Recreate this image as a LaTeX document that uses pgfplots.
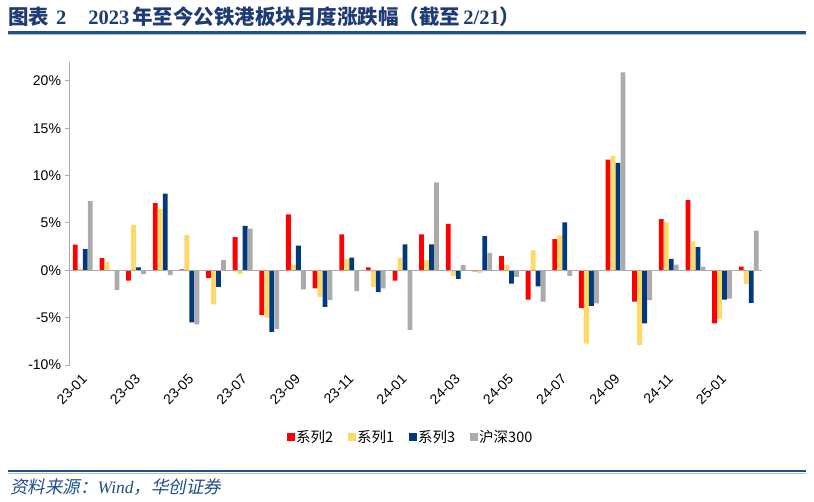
\documentclass[border=0pt]{standalone}
\usepackage{pgfplots}
\usepackage{pgfplotstable}
\pgfplotsset{compat=1.18}
\usepackage{fontspec}
\setmainfont{Liberation Sans}
\newfontfamily\cjk{Noto Sans CJK SC}
\newfontfamily\tnr{Liberation Serif}
\newfontfamily\cjkit{Noto Sans CJK SC}[FakeSlant=0.2]
\definecolor{cred}{HTML}{FF0000}
\definecolor{cyel}{HTML}{FFD966}
\definecolor{cblu}{HTML}{003A7D}
\definecolor{cgry}{HTML}{ABABAB}
\definecolor{navy}{HTML}{1F3B73}
\definecolor{lineblue}{HTML}{1F4E8C}

\pgfplotstableread{
x r y b g
0 2.7 0.2 2.25 7.3
1 1.3 0.9 0.0 -2.1
2 -1.1 4.8 0.3 -0.4
3 7.1 6.5 8.1 -0.5
4 0.1 3.75 -5.5 -5.7
5 -0.8 -3.6 -1.75 1.1
6 3.5 -0.4 4.7 4.4
7 -4.7 -5.0 -6.5 -6.2
8 5.9 0.55 2.6 -2.0
9 -1.9 -2.8 -3.85 -3.15
10 3.8 1.2 1.35 -2.2
11 0.3 -1.75 -2.3 -1.9
12 -1.1 1.3 2.75 -6.3
13 3.8 1.1 2.75 9.3
14 4.9 -0.6 -0.9 0.55
15 -0.1 -0.3 3.6 1.85
16 1.5 0.6 -1.4 -0.7
17 -3.1 2.1 -1.7 -3.3
18 3.3 3.7 5.05 -0.6
19 -4.0 -7.75 -3.75 -3.5
20 11.7 12.1 11.35 20.9
21 -3.3 -7.9 -5.6 -3.15
22 5.4 5.05 1.2 0.6
23 7.4 3.05 2.45 0.4
24 -5.6 -5.1 -3.1 -3.0
25 0.4 -1.45 -3.45 4.2
}\data

\begin{document}
\begin{tikzpicture}
\path[use as bounding box] (0pt,0pt) rectangle (814pt,-502pt);
\node[anchor=base west, inner sep=0, text=navy, font=\fontsize{20.5}{22}\selectfont\bfseries] at (8pt,-25pt)
 {{\cjk 图表}\hspace{7pt}{\tnr 2}\hspace{22pt}{\tnr 2023}\hspace{3pt}{\cjk 年至今公铁港板块月度涨跌幅（截至}\hspace{3pt}{\tnr 2/21}{\cjk ）}};
\draw[lineblue, line width=2.2pt] (8pt,-32.5pt) -- (806pt,-32.5pt);
\draw[lineblue!35, line width=0.6pt] (8pt,-34.6pt) -- (806pt,-34.6pt);
\draw[lineblue, line width=2.2pt] (8pt,-471pt) -- (806pt,-471pt);
\draw[lineblue!35, line width=0.6pt] (8pt,-473.1pt) -- (806pt,-473.1pt);
\node[anchor=base west, inner sep=0, text=lineblue, font=\fontsize{17.5}{19}\selectfont] at (10pt,-493pt)
 {{\cjkit 资料来源：}{\tnr\itshape Wind}{\cjkit ，华创证券}};
\begin{axis}[
  at={(69.5pt,-365pt)}, anchor=south west,
  scale only axis, width=692.5pt, height=303pt,
  xmin=-0.5, xmax=25.5, ymin=-10, ymax=22,
  ybar=0.2pt, bar width=4.8pt,
  axis lines*=left,
  x axis line style={draw=none},
  y axis line style={draw=cgry, line width=1.2pt},
  tick align=outside, major tick length=5pt,
  ytick={-10,-5,0,5,10,15,20},
  ytick style={draw=cgry, line width=1pt},
  xtick={0,2,...,24},
  xtick style={draw=none},
  xticklabels={23-01,23-03,23-05,23-07,23-09,23-11,24-01,24-03,24-05,24-07,24-09,24-11,25-01},
  xticklabel style={rotate=45, anchor=east, yshift=-6pt, font=\fontsize{14}{16}\selectfont},
  yticklabel={\pgfmathprintnumber{\tick}\%},
  yticklabel style={font=\fontsize{14}{16}\selectfont},
  /pgf/number format/assume math mode=true,
  legend columns=4,
  legend style={at={(0.492,-0.238)}, anchor=center, draw=none, fill=none,
    font=\cjk\fontsize{14.5}{16}\selectfont,
    /tikz/every even column/.append style={column sep=13pt},
    nodes={inner sep=1.5pt}},
  legend image code/.code={\fill[#1] (0pt,-4pt) rectangle (8pt,4pt);},
]
\addplot[fill=cred, draw=none] table[x=x,y=r]{\data};
\addplot[fill=cyel, draw=none] table[x=x,y=y]{\data};
\addplot[fill=cblu, draw=none] table[x=x,y=b]{\data};
\addplot[fill=cgry, draw=none] table[x=x,y=g]{\data};
\legend{系列2,系列1,系列3,沪深300}
\draw[cgry, line width=1.3pt] (axis cs:-0.5,0) -- (axis cs:25.5,0);
\end{axis}
\end{tikzpicture}
\end{document}
